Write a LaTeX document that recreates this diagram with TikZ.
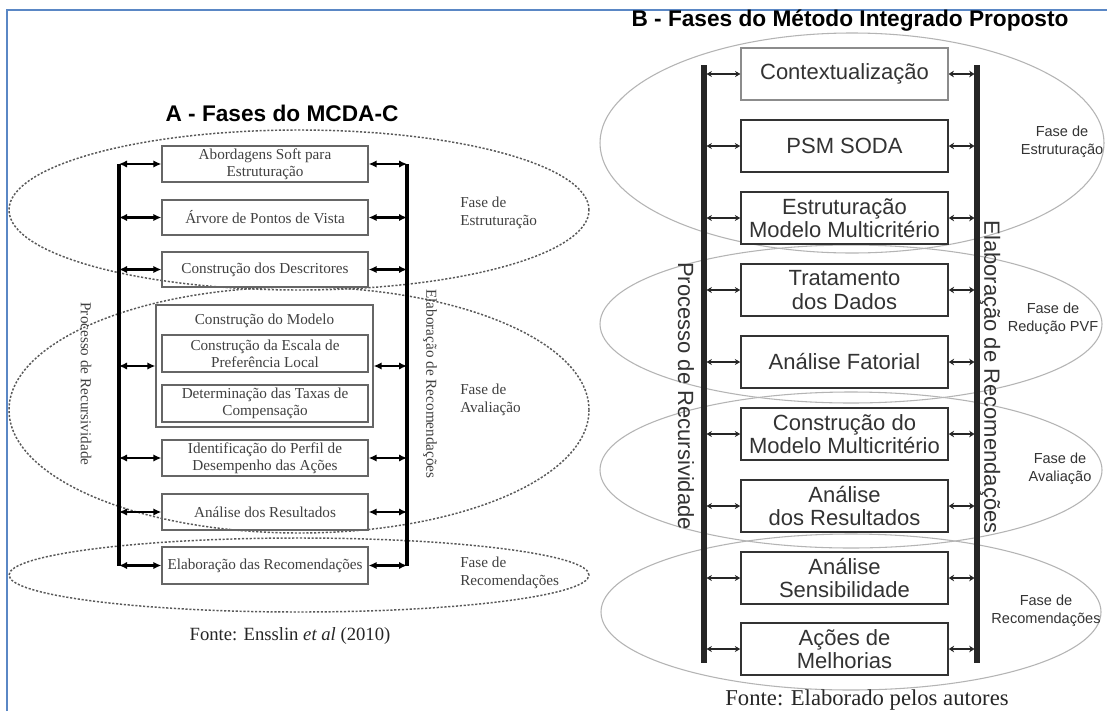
\documentclass[tikz,border=0pt]{standalone}
\usepackage{fontspec}
\setmainfont{Liberation Serif}
\newfontfamily\arialf{Liberation Sans}
\usetikzlibrary{arrows.meta}
\definecolor{frameblue}{HTML}{5A87C5}
\definecolor{ltext}{HTML}{404040}
\definecolor{rtext}{HTML}{333333}
\definecolor{rell}{HTML}{B4B4B4}
\tikzset{
  titlef/.style={font=\arialf\bfseries\fontsize{17}{20}\selectfont, text=black, inner sep=0pt},
  lbox/.style={draw=black!60, line width=0.9pt, minimum width=154.5pt, minimum height=27pt, inner sep=0pt, align=center, font=\fontsize{11.4}{12.75}\selectfont, text=ltext},
  ltxt/.style={font=\fontsize{11.4}{14}\selectfont, text=ltext, inner sep=0pt, align=left},
  lrot/.style={font=\fontsize{11.4}{14}\selectfont, text=ltext, inner sep=0pt, rotate=-90},
  ldot/.style={draw=black!65, line width=1.1pt, dash pattern=on 1.6pt off 1.3pt},
  lbar/.style={line width=2.3pt, black},
  larr/.style={line width=1.7pt, black, {Latex[length=6pt,width=5.5pt]}-{Latex[length=6pt,width=5.5pt]}},
  rbox/.style={draw=black!80, line width=1.2pt, fill=white, minimum width=155.25pt, minimum height=39pt, inner sep=0pt, align=center, font=\arialf\fontsize{16.5}{17.6}\selectfont, text=rtext},
  rtxt/.style={font=\arialf\fontsize{10.9}{13.5}\selectfont, text=rtext, inner sep=0pt, align=center},
  rrot/.style={font=\arialf\fontsize{16.5}{18}\selectfont, text=rtext, inner sep=0pt, rotate=-90},
  rell/.style={draw=rell, line width=0.8pt},
  rbar/.style={line width=3.8pt, black!85},
  rarrl/.style={line width=1.1pt, black!85, {Stealth[length=4pt,width=4.5pt]}-{Stealth[length=4pt,width=4.5pt]}},
  rarrr/.style={line width=1.9pt, black!85, {Stealth[length=4pt,width=5pt]}-{Stealth[length=4pt,width=5pt]}},
  fonte/.style={inner sep=0pt, text=black!85}
}
\begin{document}
\begin{tikzpicture}[x=0.75pt,y=-0.75pt]
\useasboundingbox (0,0) rectangle (1107,711);
\fill[white] (0,0) rectangle (1107,711);
% frame
\draw[frameblue, line width=1.6pt] (7,711) -- (7,10) -- (1107,10);

% ================= Panel A =================
\node[titlef] (tA) at (282,113) {A - Fases do MCDA-C};

\draw[ldot] (299,210) ellipse [x radius=217.5pt, y radius=60pt];
\draw[ldot] (299,410) ellipse [x radius=217.5pt, y radius=92.25pt];
\draw[ldot] (299,575) ellipse [x radius=217.5pt, y radius=27.75pt];

\node[lbox] (a1) at (265,164) {Abordagens Soft para\\Estruturação};
\node[lbox, minimum height=26.25pt] (a2) at (265,217.5) {Árvore de Pontos de Vista};
\node[lbox, minimum height=26.25pt] (a3) at (265,269.5) {Construção dos Descritores};
\node[lbox, minimum width=162.75pt, minimum height=91.5pt] (a4) at (264.5,366) {};
\node[ltxt] (a4t) at (264.5,321) {Construção do Modelo};
\node[lbox, minimum height=27.75pt] (a4a) at (265,353.5) {Construção da Escala de\\Preferência Local};
\node[lbox, minimum height=27.75pt] (a4b) at (265,403.5) {Determinação das Taxas de\\Compensação};
\node[lbox] (a5) at (265,458) {Identificação do Perfil de\\Desempenho das Ações};
\node[lbox] (a6) at (265,512) {Análise dos Resultados};
\node[lbox, minimum height=27.75pt] (a7) at (265,565.5) {Elaboração das Recomendações};

\coordinate (LT) at (119,164);
\coordinate (LB) at (119,565.5);
\coordinate (RT) at (407,164);
\coordinate (RB) at (407,565.5);
\draw[lbar] (LT) -- (LB);
\draw[lbar] (RT) -- (RB);
\foreach \n in {a1,a2,a3,a4,a5,a6,a7}{
  \draw[larr] (\n.west -| LT) -- (\n.west);
  \draw[larr] (\n.east) -- (\n.east -| RT);
}

\node[lrot] (aproc) at (86,384) {Processo de Recursividade};
\node[lrot] (aelab) at (430,384) {Elaboração de Recomendações};

\node[ltxt, anchor=west] (af1) at (460,213) {Fase de\\Estruturação};
\node[ltxt, anchor=west] (af2) at (460,400) {Fase de\\Avaliação};
\node[ltxt, anchor=west] (af3) at (460,573) {Fase de\\Recomendações};

\node[fonte, font=\fontsize{14}{16}\selectfont] (fA) at (290,636) {Fonte: Ensslin \textit{et al} (2010)};

% ================= Panel B =================
\node[titlef] (tB) at (850,21) {B - Fases do Método Integrado Proposto};

\draw[rell] (852,143) ellipse [x radius=189pt, y radius=82.5pt];
\draw[rell] (851,324) ellipse [x radius=188.25pt, y radius=59.25pt];
\draw[rell] (851,470) ellipse [x radius=188.25pt, y radius=58.5pt];
\draw[rell] (851,612) ellipse [x radius=187.5pt, y radius=58.5pt];

\node[rbox, draw=black!45, line width=0.9pt] (b1) at (844.5,74) {Contextualização};
\node[rbox] (b2) at (844.5,146) {PSM SODA};
\node[rbox] (b3) at (844.5,218) {Estruturação\\Modelo Multicritério};
\node[rbox] (b4) at (844.5,290) {Tratamento\\dos Dados};
\node[rbox] (b5) at (844.5,362) {Análise Fatorial};
\node[rbox] (b6) at (844.5,434) {Construção do\\Modelo Multicritério};
\node[rbox] (b7) at (844.5,506) {Análise\\dos Resultados};
\node[rbox] (b8) at (844.5,578) {Análise\\Sensibilidade};
\node[rbox] (b9) at (844.5,649) {Ações de\\Melhorias};

\coordinate (BLT) at (704,65);
\coordinate (BLB) at (704,663);
\coordinate (BRT) at (977,65);
\coordinate (BRB) at (977,663);
\draw[rbar] (BLT) -- (BLB);
\draw[rbar] (BRT) -- (BRB);
\foreach \n in {b1,b2,b3,b4,b5,b6,b7,b8,b9}{
  \draw[rarrl] ([xshift=1.9pt]\n.west -| BLT) -- (\n.west);
  \draw[rarrr] (\n.east) -- ([xshift=-1.9pt]\n.east -| BRT);
}

\node[rrot] (bproc) at (686,396) {Processo de Recursividade};
\node[rrot] (belab) at (990,377) {Elaboração de Recomendações};

\node[rtxt] (bf1) at (1062,142) {Fase de\\Estruturação};
\node[rtxt] (bf2) at (1053,319) {Fase de\\Redução PVF};
\node[rtxt] (bf3) at (1060,469) {Fase de\\Avaliação};
\node[rtxt] (bf4) at (1046,611) {Fase de\\Recomendações};

\node[fonte, font=\fontsize{17}{19}\selectfont] (fB) at (867,700) {Fonte: Elaborado pelos autores};
\end{tikzpicture}
\end{document}
